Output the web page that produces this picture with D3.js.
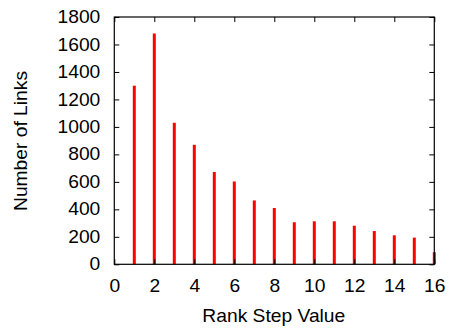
<!DOCTYPE html>
<html>
<head>
<meta charset="utf-8">
<script src="https://cdn.jsdelivr.net/npm/d3@7"></script>
<style>
  html, body { margin: 0; padding: 0; background: #fff; }
  svg { display: block; }
  text { font-family: "Liberation Sans", Arial, sans-serif; fill: #000; }
</style>
</head>
<body>
<svg id="chart" width="450" height="328"></svg>
<script>
// Rank step values and how many links fall on each step
const steps = [1, 2, 3, 4, 5, 6, 7, 8, 9, 10, 11, 12, 13, 14, 15, 16];
const links = [1300, 1680, 1030, 870, 672, 603, 465, 410, 306, 313, 313, 281, 242, 211, 194, 88];
const xTicks = [0, 2, 4, 6, 8, 10, 12, 14, 16];
const yTicks = [0, 200, 400, 600, 800, 1000, 1200, 1400, 1600, 1800];

const svg = d3.select("#chart");
const plotLeft = 114.3, plotRight = 434.3, plotTop = 17, plotBottom = 264.3;

const x = d3.scaleLinear().domain([0, 16]).range([plotLeft, plotRight]);
const y = d3.scaleLinear().domain([0, 1800]).range([plotBottom, plotTop]);

const fontSize = "17.5px";
const stretch = 1.1;   // slightly wide lettering
const tickLen = 5;

// impulses
svg.append("g")
  .selectAll("line")
  .data(steps)
  .join("line")
  .attr("x1", (d) => x(d))
  .attr("x2", (d) => x(d))
  .attr("y1", y(0))
  .attr("y2", (d, i) => y(links[i]))
  .attr("stroke", "#ff0000")
  .attr("stroke-width", 3);

// bottom axis with labels, ticks pointing inward
const gx = svg.append("g").attr("transform", `translate(0,${plotBottom})`)
  .call(d3.axisBottom(x).tickValues(xTicks).tickFormat(d3.format("d"))
    .tickSizeInner(-tickLen).tickSizeOuter(0).tickPadding(15));
// top mirror ticks
const gxt = svg.append("g").attr("transform", `translate(0,${plotTop})`)
  .call(d3.axisTop(x).tickValues(xTicks).tickSizeInner(-tickLen).tickSizeOuter(0).tickFormat(""));
// left axis with labels
const gy = svg.append("g").attr("transform", `translate(${plotLeft},0)`)
  .call(d3.axisLeft(y).tickValues(yTicks).tickFormat(d3.format("d"))
    .tickSizeInner(-tickLen).tickSizeOuter(0).tickPadding(14));
// right mirror ticks
const gyr = svg.append("g").attr("transform", `translate(${plotRight},0)`)
  .call(d3.axisRight(y).tickValues(yTicks).tickSizeInner(-tickLen).tickSizeOuter(0).tickFormat(""));

[gx, gxt, gy, gyr].forEach((g) => {
  g.select(".domain").remove();
  g.attr("font-family", null).attr("font-size", null);
  g.selectAll("line").attr("stroke", "#000").attr("stroke-width", 1);
  g.selectAll("text")
    .style("font-size", fontSize)
    .attr("x", function () { return (+d3.select(this).attr("x") || 0) / stretch; })
    .attr("transform", `scale(${stretch},1)`);
});

// frame
svg.append("rect")
  .attr("x", plotLeft).attr("y", plotTop)
  .attr("width", plotRight - plotLeft).attr("height", plotBottom - plotTop)
  .attr("fill", "none").attr("stroke", "#000").attr("stroke-width", 1.2);

// axis titles
svg.append("text")
  .attr("transform", `translate(${(plotLeft + plotRight) / 2 - 0.5},322) scale(${stretch},1)`)
  .attr("text-anchor", "middle")
  .style("font-size", fontSize)
  .text("Rank Step Value");

svg.append("text")
  .attr("transform", `translate(26.5,141) rotate(-90) scale(${stretch},1)`)
  .attr("text-anchor", "middle")
  .style("font-size", fontSize)
  .text("Number of Links");
</script>
</body>
</html>
